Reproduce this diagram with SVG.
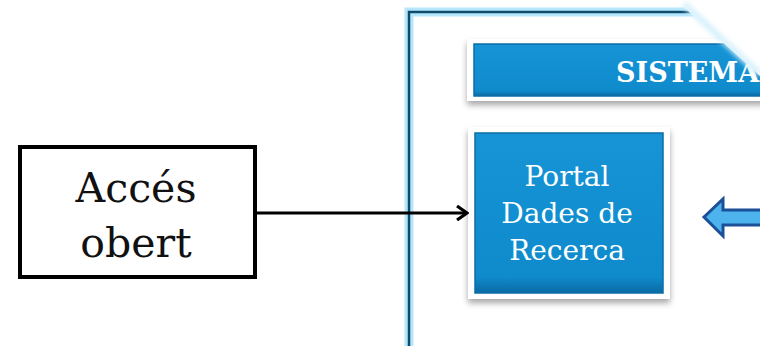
<svg xmlns="http://www.w3.org/2000/svg" width="760" height="346" viewBox="0 0 760 346">
<style>
.serif{font-family:"DejaVu Serif","Liberation Serif",serif}
.lbl{fill:#ffffff;font-size:28px;text-anchor:middle}
.big{fill:#111111;font-size:41px;text-anchor:middle}
.frame-glow{fill:none;stroke:#b5e6fb;stroke-width:9}
.frame{fill:none;stroke:#0d4d6b;stroke-width:2.5}
.card{fill:#ffffff}
.blue{fill:url(#bgrad);stroke:#0b6ea6;stroke-width:1.5}
</style>
<defs>
<linearGradient id="bgrad" x1="0" y1="0" x2="0" y2="1">
<stop offset="0" stop-color="#1694d6"/>
<stop offset="0.9" stop-color="#0f8bcc"/>
<stop offset="1" stop-color="#0a6aa3"/>
</linearGradient>
<filter id="sh" x="-10%" y="-10%" width="130%" height="140%">
<feGaussianBlur in="SourceAlpha" stdDeviation="3"/>
<feOffset dx="0" dy="4" result="b"/>
<feComponentTransfer><feFuncA type="linear" slope="0.35"/></feComponentTransfer>
<feMerge><feMergeNode/><feMergeNode in="SourceGraphic"/></feMerge>
</filter>
<filter id="soft"><feGaussianBlur stdDeviation="2.5"/></filter>
<marker id="chev" markerWidth="14" markerHeight="16" refX="12" refY="8" orient="auto" markerUnits="userSpaceOnUse">
<path d="M2,1 L12,8 L2,15" fill="none" stroke="#000" stroke-width="3.2"/>
</marker>
</defs>
<rect width="760" height="346" fill="#ffffff"/>

<g id="sistema-frame">
<path class="frame-glow" d="M409,346 V12 H700"/>
<path class="frame" d="M409,346 V12 H700"/>
</g>

<g id="sistema-header">
<rect class="card" x="467" y="39" width="300" height="62" filter="url(#sh)"/>
<rect class="blue" x="474" y="44" width="300" height="52"/>
<text class="serif" x="616" y="82" fill="#ffffff" font-size="27" font-weight="bold">SISTEMA</text>
</g>

<g id="fade">
<polygon points="676,0 760,0 760,76" fill="#ffffff"/>
<line x1="684" y1="4" x2="760" y2="74" stroke="#d4f0fc" stroke-width="6" filter="url(#soft)"/>
</g>

<g id="portal">
<rect class="card" x="468" y="127" width="202" height="172" filter="url(#sh)"/>
<rect class="blue" x="475" y="133" width="188" height="160"/>
<text class="serif lbl" x="567" y="186">Portal</text>
<text class="serif lbl" x="567" y="223">Dades de</text>
<text class="serif lbl" x="567" y="260">Recerca</text>
</g>

<g id="acces">
<rect x="20" y="147" width="235" height="130" fill="#ffffff" stroke="#000" stroke-width="4"/>
<text class="serif big" x="136" y="202">Accés</text>
<text class="serif big" x="136" y="257">obert</text>
</g>

<g id="connectors">
<line x1="256" y1="213" x2="467" y2="213" stroke="#000" stroke-width="3.2" marker-end="url(#chev)"/>
<path d="M704,217 L723,199 L723,210 L764,210 L764,225 L723,225 L723,236 Z" fill="#4cb3ec" stroke="#1b4f98" stroke-width="3" stroke-linejoin="miter"/>
</g>
</svg>
